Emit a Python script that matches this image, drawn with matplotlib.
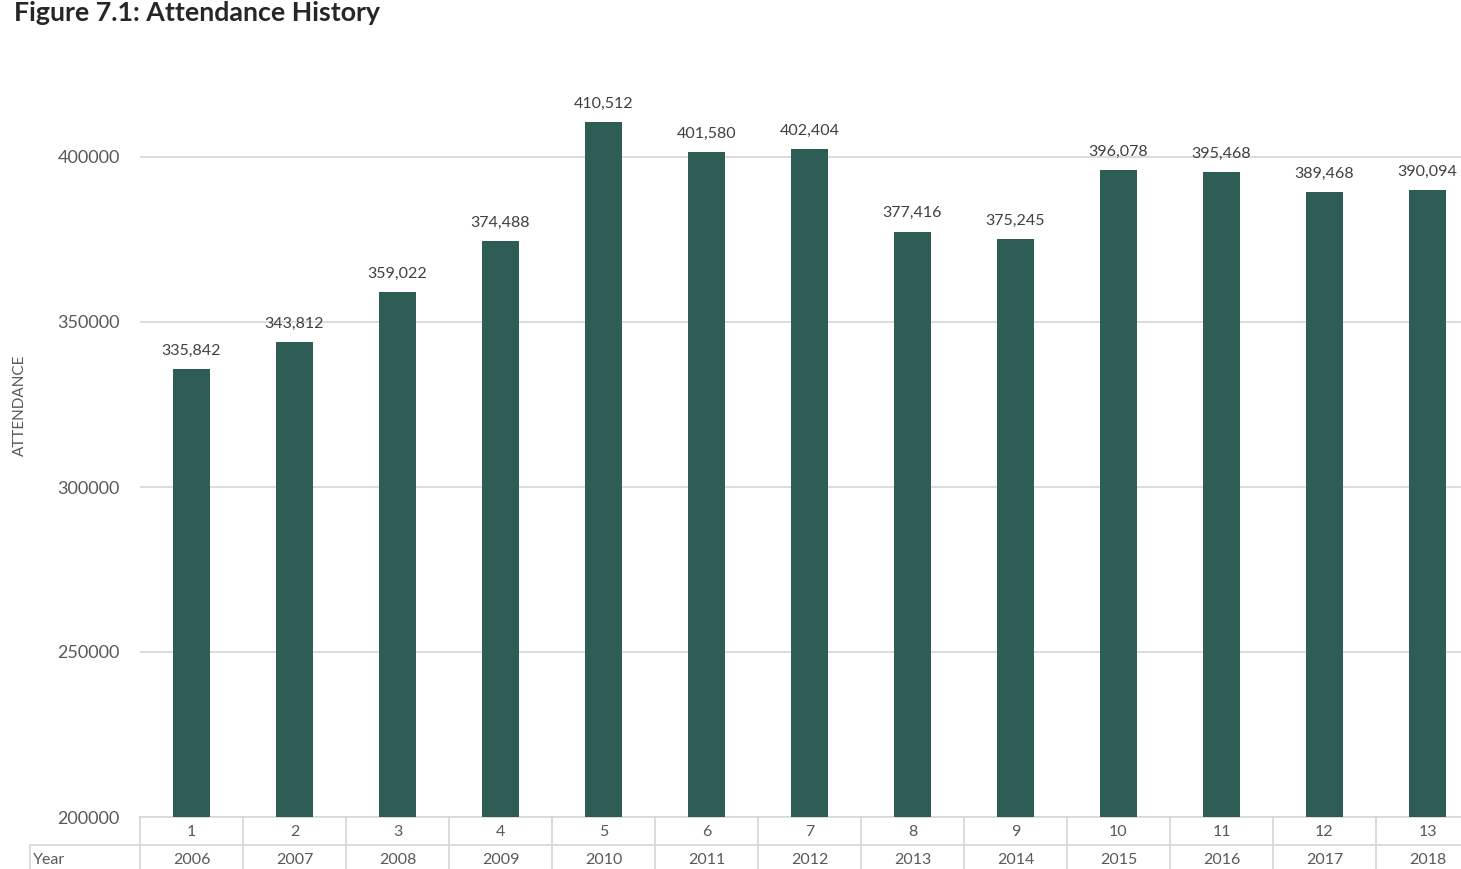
import numpy as np
import matplotlib.pyplot as plt
from matplotlib.transforms import blended_transform_factory

plt.rcParams['font.family'] = ['Lato', 'DejaVu Sans']

# data
idx = [str(i) for i in range(1, 14)]
years = ['2006', '2007', '2008', '2009', '2010', '2011', '2012',
         '2013', '2014', '2015', '2016', '2017', '2018']
attendance = [335842, 343812, 359022, 374488, 410512, 401580, 402404,
              377416, 375245, 396078, 395468, 389468, 390094]

W, H = 1461, 869
fig = plt.figure(figsize=(W / 100, H / 100), dpi=100)
# plot area runs a bit past the right edge of the image, as in the original
ax = fig.add_axes([140 / W, 52 / H, 1339 / W, 726 / H])

x = np.arange(len(attendance))
bar_color = '#2E5D55'
ax.bar(x, attendance, width=0.35, color=bar_color, zorder=3)

for xi, v in zip(x, attendance):
    ax.text(xi, v + 3400, f'{v:,}', ha='center', va='bottom',
            fontsize=11.5, color='#404040')

ax.set_xlim(-0.5, len(attendance) - 0.5)
ax.set_ylim(200000, 420000)
ax.set_yticks([200000, 250000, 300000, 350000, 400000])
ax.set_yticklabels(['200000', '250000', '300000', '350000', '400000'])
ax.yaxis.grid(True, color='#d9d9d9', lw=1.3, zorder=0)
ax.tick_params(axis='y', length=0, pad=14.5, labelsize=13, labelcolor='#595959')
ax.set_xticks([])
for s in ['top', 'right', 'left']:
    ax.spines[s].set_visible(False)
ax.spines['bottom'].set_color('#d9d9d9')
ax.spines['bottom'].set_linewidth(1.3)

ax.set_ylabel('ATTENDANCE', fontsize=11, color='#595959')
ax.yaxis.set_label_coords(-113 / 1339, 0.567)

# data table under the axis
tr = blended_transform_factory(ax.transData, fig.transFigure)
line_kw = dict(color='#d9d9d9', lw=1.3, clip_on=False)
y_mid = (H - 845) / H
y_top = (H - 817) / H
for b in np.arange(-0.5, len(attendance) + 0.5, 1):
    ax.plot([b, b], [0, y_top], transform=tr, **line_kw)
fig.add_artist(plt.Line2D([30 / W, 1], [y_mid, y_mid], **line_kw))
fig.add_artist(plt.Line2D([30 / W, 30 / W], [0, y_mid], **line_kw))

for xi, a, yr in zip(x, idx, years):
    ax.text(xi, (H - 832) / H, a, transform=tr, ha='center', va='center',
            fontsize=11.5, color='#595959')
    ax.text(xi, (H - 860) / H, yr, transform=tr, ha='center', va='center',
            fontsize=11.5, color='#595959')
fig.text(33 / W, (H - 860) / H, 'Year', ha='left', va='center',
         fontsize=11.5, color='#595959')

fig.text(14 / W, (H - 13) / H, 'Figure 7.1: Attendance History', ha='left',
         va='center', fontsize=19.3, fontweight='bold', color='#262626')

fig.savefig('out.png', dpi=100)
